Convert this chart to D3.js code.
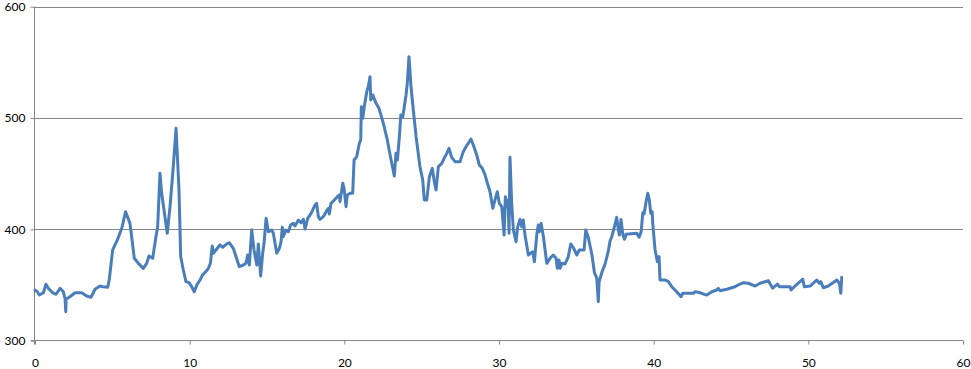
<!DOCTYPE html>
<html>
<head>
<meta charset="utf-8">
<script src="https://cdnjs.cloudflare.com/ajax/libs/d3/7.8.5/d3.min.js"></script>
<style>
body { margin: 0; background: #fff; }
</style>
</head>
<body>
<script>
var width = 971;
var height = 369;

// x values of the series
var xs = [0.00,0.15,0.28,0.54,0.71,0.86,1.14,1.36,1.62,1.83,1.94,1.99,2.01,2.26,2.59,3.02,3.34,3.62,3.88,4.20,
4.38,4.70,4.80,5.02,5.32,5.61,5.86,6.14,6.25,6.42,6.68,7.00,7.22,7.37,7.61,7.82,7.93,8.08,8.19,8.55,
8.73,8.94,9.12,9.31,9.42,9.59,9.76,9.96,10.13,10.30,10.46,10.67,10.82,10.99,11.21,11.34,11.46,11.53,11.75,11.96,
12.14,12.40,12.56,12.82,13.21,13.47,13.64,13.75,13.86,14.01,14.16,14.34,14.44,14.59,14.72,14.81,14.94,15.09,15.31,15.41,
15.63,15.80,15.91,15.99,16.05,16.23,16.38,16.53,16.70,16.81,17.03,17.20,17.35,17.46,17.63,17.85,18.11,18.21,18.32,18.43,
18.64,18.86,18.97,19.03,19.14,19.40,19.55,19.68,19.72,19.90,19.98,20.11,20.19,20.37,20.54,20.63,20.80,20.97,21.06,21.10,
21.19,21.29,21.45,21.55,21.66,21.71,21.84,22.05,22.24,22.52,22.78,23.00,23.23,23.34,23.43,23.56,23.65,23.78,23.99,24.07,
24.18,24.31,24.46,24.64,24.89,25.07,25.17,25.33,25.50,25.69,25.80,25.93,26.08,26.30,26.45,26.62,26.77,26.94,27.16,27.48,
27.69,27.87,28.08,28.19,28.34,28.56,28.73,28.92,29.10,29.25,29.42,29.60,29.74,29.89,30.02,30.18,30.33,30.41,30.50,30.58,
30.65,30.71,30.82,30.93,31.10,31.21,31.36,31.47,31.57,31.68,31.90,32.18,32.29,32.44,32.54,32.61,32.72,32.87,33.09,33.30,
33.51,33.69,33.77,33.88,33.95,34.06,34.27,34.48,34.64,34.81,35.03,35.19,35.50,35.61,35.78,36.00,36.17,36.32,36.42,36.47,
36.66,36.86,37.07,37.18,37.29,37.44,37.61,37.72,37.78,37.89,38.00,38.11,38.22,38.91,39.06,39.19,39.30,39.38,39.51,39.62,
39.72,39.81,39.90,39.94,40.09,40.24,40.35,40.41,40.74,40.95,41.17,41.49,41.77,41.88,42.57,42.68,42.89,43.43,43.76,44.08,
44.18,44.29,44.73,45.26,45.59,45.80,46.13,46.56,46.88,47.42,47.53,47.70,47.85,48.00,48.13,48.82,48.88,49.14,49.64,49.74,
50.11,50.54,50.71,50.80,50.97,51.29,51.84,52.01,52.10,52.16];

// y values of the series
var ys = [345.5,344.0,341.0,343.1,350.7,347.1,343.1,341.7,347.1,344.0,338.1,326.0,337.2,339.5,343.1,343.1,340.1,339.0,346.2,349.1,
348.5,348.0,354.5,381.5,390.4,401.0,415.9,405.4,393.4,374.0,369.5,365.0,369.5,376.1,374.0,393.4,402.4,450.4,432.4,396.5,
420.4,456.3,490.8,435.4,375.4,363.5,353.0,352.1,348.5,344.0,350.0,354.5,359.0,361.1,365.0,369.5,385.1,378.5,382.4,386.0,
383.9,386.9,388.0,383.0,366.5,368.0,369.5,377.0,368.0,399.4,381.5,368.0,386.9,358.1,378.5,387.5,409.9,397.9,399.4,396.5,
378.5,383.0,388.9,401.9,393.4,399.4,397.9,403.9,405.4,403.0,408.4,406.0,409.0,400.3,409.9,414.4,421.9,423.4,411.4,409.0,
411.4,416.8,418.9,413.8,423.4,427.0,429.3,430.9,424.9,441.4,436.9,420.4,430.9,432.4,432.4,462.3,465.3,477.3,480.3,510.2,
499.8,510.2,523.7,528.1,537.1,516.2,520.7,513.2,508.7,495.3,480.3,463.8,447.9,468.3,462.3,483.2,502.7,501.2,520.7,531.2,
555.1,528.1,507.2,483.2,456.3,444.3,426.4,426.4,447.3,454.8,444.3,435.4,456.3,459.3,463.8,468.3,472.8,464.7,460.8,460.8,
469.8,474.3,478.7,481.2,475.8,466.8,457.8,454.8,448.8,441.4,433.8,418.9,426.4,433.8,423.4,420.4,394.9,429.3,420.4,426.4,
396.5,464.7,423.4,399.4,388.9,402.4,409.0,402.4,408.4,394.9,377.0,379.9,371.0,394.9,403.9,397.9,405.4,393.4,369.5,374.0,
377.0,374.0,365.0,372.5,365.0,369.5,368.9,375.5,386.9,383.5,377.0,381.5,381.5,399.4,392.2,377.9,361.3,356.3,335.0,353.0,
361.7,368.9,380.6,389.6,393.4,401.0,410.8,399.4,394.9,408.8,395.8,391.1,395.6,396.5,392.9,397.9,415.0,413.8,424.9,432.4,
426.4,414.4,415.9,405.4,381.5,371.0,375.5,354.5,354.5,353.0,348.5,344.0,339.5,342.6,342.6,344.0,343.5,341.0,344.0,345.5,
347.1,344.9,346.2,348.5,350.9,352.1,351.6,349.1,351.6,353.9,350.9,347.1,349.1,350.9,348.5,348.5,345.5,349.1,355.2,348.5,
349.1,354.5,351.6,353.0,347.6,349.1,354.5,351.6,342.6,357.0];

var xTicks = [0,10,20,30,40,50,60];
var yTicks = [300,400,500,600];

var data = xs.map(function(d,i){
	return {x:d, y:ys[i]};
});

var svg = d3.select("body")
.append("svg")
.attr("width",width)
.attr("height",height);

var x = d3.scaleLinear()
.domain([0,60])
.range([35,963]);

var y = d3.scaleLinear()
.domain([300,600])
.range([340.7,6.7]);

// gridlines
svg.selectAll(".grid")
.data(yTicks.slice(1))
.enter()
.append("line")
.attr("x1",x(0))
.attr("x2",x(60))
.attr("y1",function(d){ return Math.round(y(d))+0.5; })
.attr("y2",function(d){ return Math.round(y(d))+0.5; })
.attr("stroke","#868686")
.attr("stroke-width",1);

var yAxis = d3.axisLeft(y)
.tickValues(yTicks)
.tickSize(4)
.tickPadding(5);

var xAxis = d3.axisBottom(x)
.tickValues(xTicks)
.tickSize(4)
.tickPadding(14);

var gy = svg.append("g")
.attr("transform","translate(34.5,0)")
.call(yAxis);

var gx = svg.append("g")
.attr("transform","translate(0,340.5)")
.call(xAxis);

[gx,gy].forEach(function(g){
	g.select(".domain").remove();
	g.selectAll(".tick line").attr("stroke","#868686");
	g.selectAll(".tick text")
	.attr("fill","#000")
	.attr("font-family","Lato, 'Open Sans', sans-serif")
	.attr("font-size","12px");
});

// axis lines
svg.append("line")
.attr("x1",34.5).attr("x2",34.5)
.attr("y1",y(600)).attr("y2",y(300)+4)
.attr("stroke","#868686");

svg.append("line")
.attr("x1",31).attr("x2",x(60))
.attr("y1",340.5).attr("y2",340.5)
.attr("stroke","#868686");

var line = d3.line()
.x(function(d){ return x(d.x); })
.y(function(d){ return y(d.y); });

svg.append("path")
.datum(data)
.attr("d",line)
.attr("fill","none")
.attr("stroke","#4a7ebb")
.attr("stroke-width",3)
.attr("stroke-linejoin","round")
.attr("stroke-linecap","round");
</script>
</body>
</html>
